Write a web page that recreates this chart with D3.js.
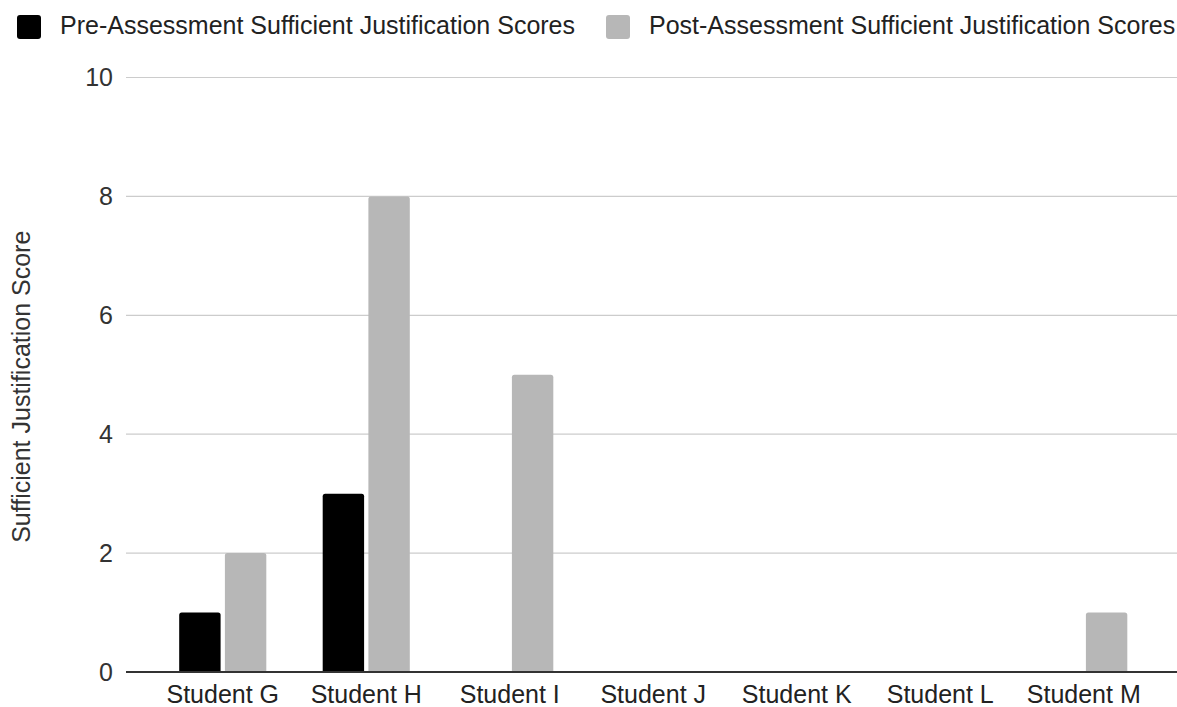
<!DOCTYPE html>
<html>
<head>
<meta charset="utf-8">
<script src="https://cdn.jsdelivr.net/npm/d3@7"></script>
<style>
  html, body { margin: 0; padding: 0; background: #fff; }
  svg { display: block; font-family: "Liberation Sans", Arial, sans-serif; }
</style>
</head>
<body>
<svg id="chart" width="1177" height="707"></svg>
<script>
// Students on the x axis
const students = ["Student G", "Student H", "Student I", "Student J", "Student K", "Student L", "Student M"];
// Series names (legend order)
const seriesNames = ["Pre-Assessment Sufficient Justification Scores", "Post-Assessment Sufficient Justification Scores"];
// Scores per student
const preScores  = [1, 3, 0, 0, 0, 0, 0];
const postScores = [2, 8, 5, 0, 0, 0, 1];
// Y axis ticks
const yTicks = [0, 2, 4, 6, 8, 10];
const yTitle = "Sufficient Justification Score";
const seriesColors = ["#000000", "#b7b7b7"];

const FONT = 25;
const svg = d3.select("#chart");
const plot = { left: 126, right: 1177, top: 77.5, bottom: 672 };

const x0 = d3.scaleBand().domain(students).range([151, 1155.5]).padding(0);
const x1 = d3.scaleBand().domain(seriesNames).range([0, x0.bandwidth()])
  .paddingInner(0.094).paddingOuter(0.617);
const y = d3.scaleLinear().domain([0, 10]).range([plot.bottom, plot.top]);

// Gridlines
svg.append("g").selectAll("line").data(yTicks.filter(d => d !== 0)).join("line")
  .attr("x1", plot.left).attr("x2", plot.right)
  .attr("y1", d => y(d)).attr("y2", d => y(d))
  .attr("stroke", "#cccccc").attr("stroke-width", 1.2);

// Y axis tick labels
const yAxis = d3.axisLeft(y).tickValues(yTicks).tickSize(0).tickPadding(0).tickFormat(d3.format("d"));
const gy = svg.append("g").attr("transform", `translate(${113},0)`).call(yAxis);
gy.select(".domain").remove();
gy.selectAll("text").attr("font-size", FONT).attr("fill", "#333")
  .attr("font-family", "Liberation Sans, Arial, sans-serif");

// Y axis title
svg.append("text")
  .attr("transform", `translate(30,${(plot.top + plot.bottom) / 2 + 12}) rotate(-90)`)
  .attr("text-anchor", "middle")
  .attr("font-size", FONT).attr("fill", "#333")
  .text(yTitle);

// Bars with slightly rounded top corners
function barPath(x, yTop, w, yBase, r) {
  const h = yBase - yTop;
  if (h <= 0) return "";
  r = Math.min(r, h, w / 2);
  return `M${x},${yBase}V${yTop + r}Q${x},${yTop} ${x + r},${yTop}H${x + w - r}Q${x + w},${yTop} ${x + w},${yTop + r}V${yBase}Z`;
}

const rows = students.map((s, i) => ({ student: s, values: [preScores[i], postScores[i]] }));
const groups = svg.append("g").selectAll("g").data(rows).join("g")
  .attr("transform", d => `translate(${x0(d.student)},0)`);
groups.selectAll("path").data(d => d.values.map((v, j) => ({ key: seriesNames[j], value: v, color: seriesColors[j] })))
  .join("path")
  .attr("d", d => barPath(x1(d.key), y(d.value), x1.bandwidth(), y(0), 2.5))
  .attr("fill", d => d.color);

// Baseline
svg.append("line")
  .attr("x1", plot.left).attr("x2", plot.right)
  .attr("y1", y(0)).attr("y2", y(0))
  .attr("stroke", "#333").attr("stroke-width", 2);

// X axis labels
const xAxis = d3.axisBottom(x0).tickSize(0).tickPadding(0);
const gx = svg.append("g").attr("transform", `translate(0,${y(0)})`).call(xAxis);
gx.select(".domain").remove();
gx.selectAll("text").attr("font-size", FONT).attr("fill", "#222")
  .attr("font-family", "Liberation Sans, Arial, sans-serif")
  .attr("dy", null).attr("y", 31);

// Legend
const legendPos = [{ sx: 17, tx: 60 }, { sx: 606, tx: 649 }];
const legend = svg.append("g").selectAll("g").data(seriesNames).join("g");
legend.append("rect")
  .attr("x", (d, i) => legendPos[i].sx).attr("y", 15)
  .attr("width", 24).attr("height", 24).attr("rx", 3)
  .attr("fill", (d, i) => seriesColors[i]);
legend.append("text")
  .attr("x", (d, i) => legendPos[i].tx).attr("y", 34)
  .attr("font-size", FONT).attr("fill", "#222")
  .text(d => d);
</script>
</body>
</html>
